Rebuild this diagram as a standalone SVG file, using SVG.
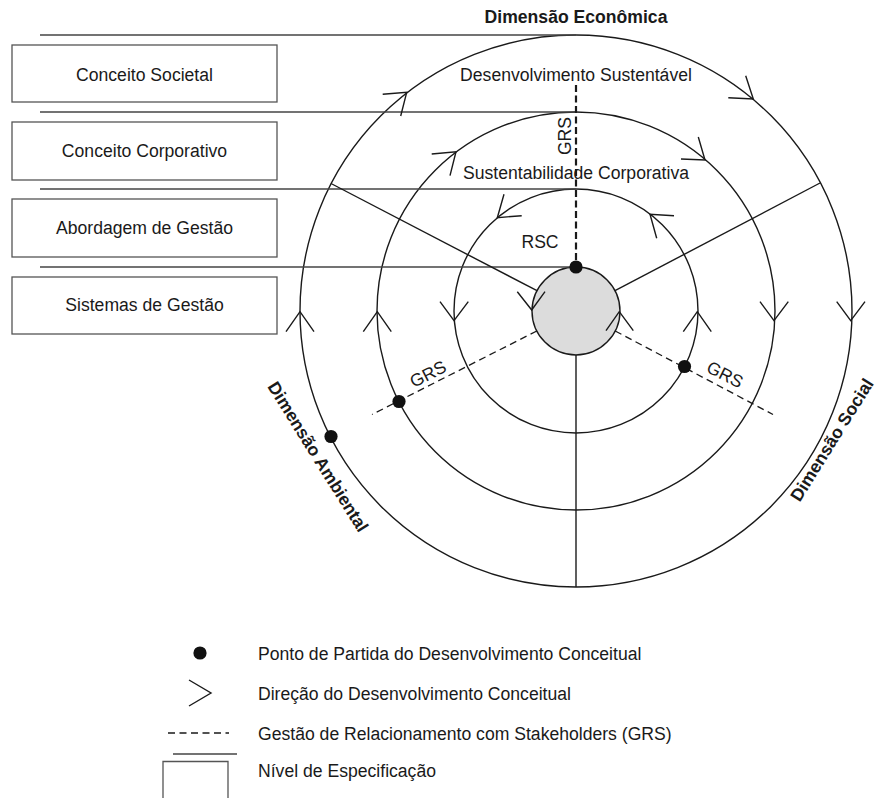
<svg xmlns="http://www.w3.org/2000/svg" width="879" height="798" viewBox="0 0 879 798">
  <style>
    text { font-family: "Liberation Sans", Arial, sans-serif; font-size: 17.6px; fill: #1a1a1a; }
    .bold { font-weight: bold; }
    .ring { fill: none; stroke: #1a1a1a; stroke-width: 1.4; }
    .core { fill: #dcdcdc; stroke: #1a1a1a; stroke-width: 1.4; }
    .spoke { stroke: #1a1a1a; stroke-width: 1.4; fill: none; }
    .level { stroke: #444; stroke-width: 1.3; fill: none; }
    .box { fill: #fff; stroke: #555; stroke-width: 1.3; }
    .grs { stroke: #1a1a1a; stroke-width: 1.3; stroke-dasharray: 7 4.5; fill: none; }
    .grs-main { stroke: #1a1a1a; stroke-width: 2.2; stroke-dasharray: 7 3.5; fill: none; }
    .dir { fill: none; stroke: #1a1a1a; stroke-width: 1.4; stroke-linejoin: miter; }
    .start { fill: #111; }
  </style>

  <!-- specification levels -->
  <g id="level-societal">
    <rect class="box" x="12" y="45" width="265" height="57"/>
    <text x="144.5" y="80.5" text-anchor="middle">Conceito Societal</text>
  </g>
  <g id="level-corporate">
    <rect class="box" x="12" y="122" width="265" height="58"/>
    <text x="144.5" y="156.5" text-anchor="middle">Conceito Corporativo</text>
  </g>
  <g id="level-approach">
    <rect class="box" x="12" y="199" width="265" height="58"/>
    <text x="144.5" y="233.5" text-anchor="middle">Abordagem de Gestão</text>
  </g>
  <g id="level-systems">
    <rect class="box" x="12" y="277" width="265" height="57"/>
    <text x="144.5" y="310.5" text-anchor="middle">Sistemas de Gestão</text>
  </g>

  <!-- concentric rings -->
  <g id="ring-sustainable-development">
    <circle class="ring" cx="576" cy="311" r="276"/>
    <text x="576" y="81" text-anchor="middle">Desenvolvimento Sustentável</text>
  </g>
  <g id="ring-corporate-sustainability">
    <circle class="ring" cx="576" cy="311" r="199"/>
    <text x="576" y="178.5" text-anchor="middle">Sustentabilidade Corporativa</text>
  </g>
  <g id="ring-rsc">
    <circle class="ring" cx="576" cy="311" r="122"/>
    <text x="540" y="248" text-anchor="middle">RSC</text>
  </g>
  <g id="core">
    <circle class="core" cx="576" cy="311" r="44"/>
  </g>

  <!-- connectors: level lines, spokes, GRS lines, direction marks, start points -->
  <g id="connectors">
    <line class="level" x1="40" y1="35" x2="576" y2="35"/>
    <line class="level" x1="40" y1="112" x2="576" y2="112"/>
    <line class="level" x1="40" y1="189" x2="576" y2="189"/>
    <line class="level" x1="40" y1="267" x2="576" y2="267"/>

    <line class="spoke" x1="537" y1="290.7" x2="331" y2="183.5"/>
    <line class="spoke" x1="615" y1="290.7" x2="820" y2="183"/>
    <line class="spoke" x1="576" y1="355" x2="576" y2="587"/>

    <line class="grs-main" x1="576" y1="85" x2="576" y2="267"/>
    <line class="grs" x1="536.8" y1="331" x2="372" y2="414.5"/>
    <line class="grs" x1="615.2" y1="331" x2="773" y2="414.5"/>

    <!-- outer ring, clockwise -->
    <polyline class="dir" points="382.7,94.3 406.7,92.3 400.7,116"/>
    <polyline class="dir" points="745.7,75.7 753.3,99 728.3,97.7"/>
    <polyline class="dir" points="286,331.7 300,311.7 314,331.7"/>
    <polyline class="dir" points="836.7,301.7 850.7,320.7 865,301.7"/>
    <!-- middle ring, clockwise -->
    <polyline class="dir" points="431.7,154 456,151.7 450,175.7"/>
    <polyline class="dir" points="698.3,137 705,160 681,159"/>
    <polyline class="dir" points="363.3,331.7 377.3,311.7 391.3,331.7"/>
    <polyline class="dir" points="760,301.7 774,320.7 788.3,301.7"/>
    <!-- inner ring, counter-clockwise -->
    <polyline class="dir" points="504,194.3 497.3,217.7 521.7,215.7"/>
    <polyline class="dir" points="674,215.7 650,214.3 656.7,238.3"/>
    <polyline class="dir" points="440,301.7 454,320.7 468.3,301.7"/>
    <polyline class="dir" points="683.3,331.7 697.3,311.7 711.3,331.7"/>
    <!-- core, counter-clockwise -->
    <polyline class="dir" points="517.3,291.7 531.7,310 545,291.7"/>
    <polyline class="dir" points="606,330.7 619.3,311.7 633.3,330.7"/>

    <circle class="start" cx="576" cy="267" r="6.6"/>
    <circle class="start" cx="684.5" cy="366.5" r="6.6"/>
    <circle class="start" cx="399" cy="401.5" r="6.6"/>
    <circle class="start" cx="331" cy="436.5" r="6.6"/>

    <text transform="translate(571 136) rotate(-90)" text-anchor="middle">GRS</text>
    <text transform="translate(433 383.9) rotate(-27) translate(0 -5)" text-anchor="middle">GRS</text>
    <text transform="translate(720 384.4) rotate(27) translate(0 -5)" text-anchor="middle">GRS</text>
  </g>

  <!-- dimensions -->
  <g id="dimension-economic">
    <text class="bold" x="576" y="23" text-anchor="middle">Dimensão Econômica</text>
  </g>
  <g id="dimension-environmental">
    <text class="bold" transform="translate(313 460) rotate(58)" text-anchor="middle">Dimensão Ambiental</text>
  </g>
  <g id="dimension-social">
    <text class="bold" transform="translate(837 443) rotate(-58)" text-anchor="middle">Dimensão Social</text>
  </g>

  <!-- legend -->
  <g id="legend-start">
    <circle class="start" cx="200" cy="653" r="6.6"/>
    <text x="258" y="660">Ponto de Partida do Desenvolvimento Conceitual</text>
  </g>
  <g id="legend-direction">
    <polyline class="dir" points="189,680 211,693 189,706"/>
    <text x="258" y="700">Direção do Desenvolvimento Conceitual</text>
  </g>
  <g id="legend-grs">
    <line class="grs" x1="168" y1="733" x2="229" y2="733" stroke-dasharray="6.5 4.5"/>
    <text x="258" y="740">Gestão de Relacionamento com Stakeholders (GRS)</text>
  </g>
  <g id="legend-level">
    <line class="level" x1="173" y1="754" x2="237" y2="754"/>
    <polyline class="box" fill="none" points="163,800 163,761.5 228,761.5 228,800"/>
    <text x="258" y="777">Nível de Especificação</text>
  </g>
</svg>
